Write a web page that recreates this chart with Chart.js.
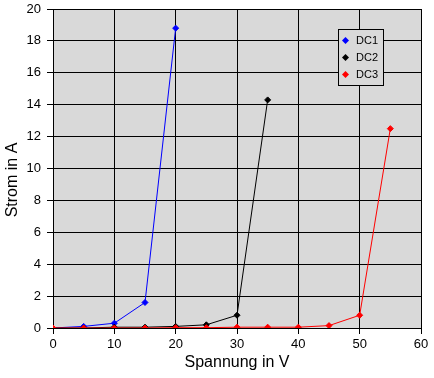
<!DOCTYPE html>
<html>
<head>
<meta charset="utf-8">
<script src="https://cdn.jsdelivr.net/npm/chart.js@4/dist/chart.umd.min.js"></script>
<style>
  html, body { margin: 0; padding: 0; background: #fff; }
  #wrap { width: 434px; height: 378px; }
</style>
</head>
<body>
<div id="wrap"><canvas id="kennlinie"></canvas></div>
<script>
// Messwerte: Spannung in V / Strom in A
const dc1U = [0, 5, 10, 15, 20];
const dc1I = [0, 0.1, 0.3, 1.6, 18.8];
const dc2U = [0, 5, 10, 15, 20, 25, 30, 35];
const dc2I = [0, 0, 0.05, 0.05, 0.1, 0.2, 0.8, 14.3];
const dc3U = [0, 5, 10, 15, 20, 25, 30, 35, 40, 45, 50, 55];
const dc3I = [0, 0, 0, 0, 0.02, 0.02, 0.05, 0.05, 0.05, 0.15, 0.8, 12.5];
const serienNamen = ['DC1', 'DC2', 'DC3'];
const serienFarben = ['#0000ff', '#000000', '#ff0000'];
const titelX = 'Spannung in V';
const titelY = 'Strom in A';

const schrift = '"Liberation Sans", Arial, sans-serif';

// Punkte fuer die Scatter-Darstellung zusammensetzen
function punkte(u, i) {
    return u.map((x, k) => ({ x: x, y: i[k] }));
}

// Hintergrund der Zeichenflaeche grau fuellen
const plotHintergrund = {
    id: 'plotHintergrund',
    beforeDraw(chart) {
        const { ctx, chartArea: a } = chart;
        ctx.save();
        ctx.fillStyle = '#d9d9d9';
        ctx.fillRect(a.left, a.top, a.right - a.left, a.bottom - a.top);
        ctx.restore();
    }
};

// Y-Achsentitel etwas tiefer als die Achsenmitte, wie im Original
const yTitel = {
    id: 'yTitel',
    afterDraw(chart) {
        const ctx = chart.ctx;
        ctx.save();
        ctx.translate(13, 180);
        ctx.rotate(-Math.PI / 2);
        ctx.font = '16px ' + schrift;
        ctx.fillStyle = '#000';
        ctx.textAlign = 'center';
        ctx.textBaseline = 'middle';
        ctx.fillText(titelY, 0, 0);
        ctx.restore();
    }
};

// Legende als Kasten im Diagramm
const legendeKasten = {
    id: 'legendeKasten',
    afterDatasetsDraw(chart) {
        const ctx = chart.ctx;
        const x = 338.5, y = 29.5, w = 45, h = 56;
        ctx.save();
        ctx.fillStyle = '#d9d9d9';
        ctx.fillRect(x, y, w, h);
        ctx.strokeStyle = '#000';
        ctx.lineWidth = 1;
        ctx.strokeRect(x, y, w, h);
        ctx.font = '11px ' + schrift;
        ctx.textBaseline = 'middle';
        chart.data.datasets.forEach((ds, k) => {
            const cy = y + 11 + k * 17;
            ctx.fillStyle = ds.borderColor;
            ctx.beginPath();
            ctx.moveTo(x + 7, cy - 3.5);
            ctx.lineTo(x + 10.5, cy);
            ctx.lineTo(x + 7, cy + 3.5);
            ctx.lineTo(x + 3.5, cy);
            ctx.closePath();
            ctx.fill();
            ctx.fillStyle = '#000';
            ctx.fillText(ds.label, x + 17.5, cy + 0.5);
        });
        ctx.restore();
    }
};

const datenSaetze = [punkte(dc1U, dc1I), punkte(dc2U, dc2I), punkte(dc3U, dc3I)].map((d, k) => ({
    label: serienNamen[k],
    data: d,
    showLine: true,
    borderColor: serienFarben[k],
    backgroundColor: serienFarben[k],
    borderWidth: 1,
    pointStyle: 'rectRot',
    pointRadius: 3,
    pointBorderWidth: 1,
    order: 3 - k
}));

new Chart(document.getElementById('kennlinie'), {
    type: 'scatter',
    data: { datasets: datenSaetze },
    options: {
        responsive: true,
        maintainAspectRatio: false,
        animation: false,
        layout: { padding: { top: 9, right: 13, left: 0, bottom: 0 } },
        plugins: { legend: { display: false }, tooltip: { enabled: false } },
        scales: {
            x: {
                type: 'linear',
                min: 0, max: 60,
                ticks: { stepSize: 10, color: '#000', font: { family: schrift, size: 13 }, padding: 3 },
                grid: { color: '#000', lineWidth: 1, tickLength: 6 },
                border: { color: '#000' },
                title: { display: true, text: titelX, color: '#000', font: { family: schrift, size: 16 }, padding: { top: 2, bottom: 6 } },
                afterFit(s) { s.height = 50; s.paddingLeft = 0; s.paddingRight = 0; }
            },
            y: {
                type: 'linear',
                min: 0, max: 20,
                ticks: { stepSize: 2, color: '#000', font: { family: schrift, size: 13 }, padding: 6 },
                grid: { color: '#000', lineWidth: 1, tickLength: 6 },
                border: { color: '#000' },
                afterFit(s) { s.width = 53; s.paddingTop = 0; s.paddingBottom = 0; }
            }
        }
    },
    plugins: [plotHintergrund, legendeKasten, yTitel]
});
</script>
</body>
</html>
